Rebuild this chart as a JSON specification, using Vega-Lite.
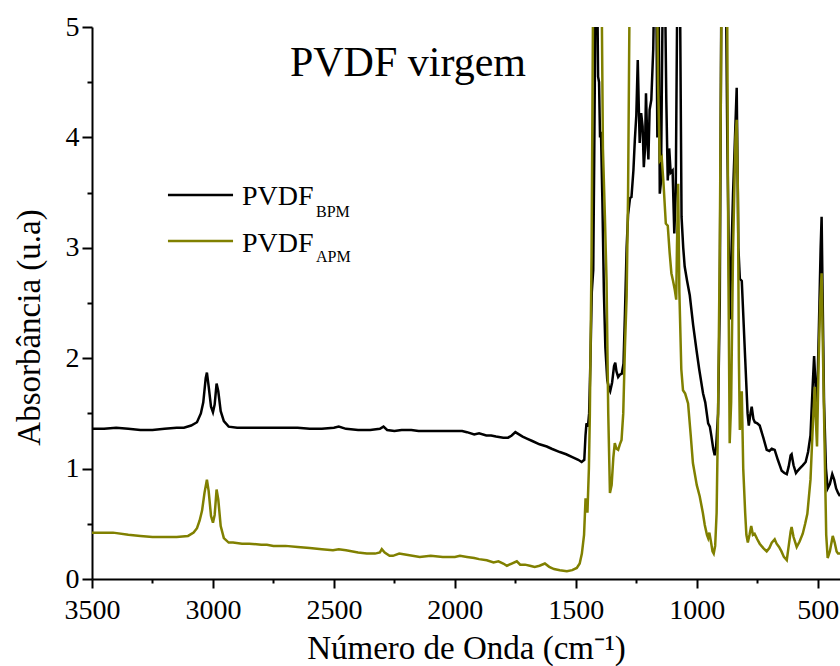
{
"$schema": "https://vega.github.io/schema/vega-lite/v6.json",
"width": 748, "height": 552,
"autosize": {"type": "none"},
"padding": {"left": 92, "top": 27, "right": 0, "bottom": 87},
"background": "white",
"config": {"view": {"stroke": null}, "font": "Liberation Serif"},
"datasets": {
"bpm": [{"wn":3500,"a":1.36},{"wn":3450,"a":1.36},{"wn":3400,"a":1.37},{"wn":3350,"a":1.36},{"wn":3300,"a":1.35},{"wn":3250,"a":1.35},{"wn":3200,"a":1.36},{"wn":3150,"a":1.37},{"wn":3120,"a":1.37},{"wn":3090,"a":1.39},{"wn":3066,"a":1.42},{"wn":3050,"a":1.50},{"wn":3040,"a":1.60},{"wn":3030,"a":1.82},{"wn":3025,"a":1.87},{"wn":3018,"a":1.75},{"wn":3008,"a":1.56},{"wn":3000,"a":1.51},{"wn":2993,"a":1.58},{"wn":2985,"a":1.77},{"wn":2978,"a":1.70},{"wn":2968,"a":1.52},{"wn":2955,"a":1.43},{"wn":2935,"a":1.38},{"wn":2900,"a":1.37},{"wn":2850,"a":1.37},{"wn":2800,"a":1.37},{"wn":2750,"a":1.37},{"wn":2700,"a":1.37},{"wn":2650,"a":1.37},{"wn":2600,"a":1.36},{"wn":2550,"a":1.36},{"wn":2500,"a":1.37},{"wn":2480,"a":1.38},{"wn":2450,"a":1.36},{"wn":2400,"a":1.35},{"wn":2350,"a":1.35},{"wn":2310,"a":1.36},{"wn":2295,"a":1.38},{"wn":2280,"a":1.35},{"wn":2250,"a":1.34},{"wn":2220,"a":1.35},{"wn":2180,"a":1.35},{"wn":2150,"a":1.34},{"wn":2100,"a":1.34},{"wn":2050,"a":1.34},{"wn":2000,"a":1.34},{"wn":1970,"a":1.34},{"wn":1950,"a":1.33},{"wn":1920,"a":1.31},{"wn":1900,"a":1.32},{"wn":1870,"a":1.30},{"wn":1850,"a":1.30},{"wn":1830,"a":1.29},{"wn":1800,"a":1.28},{"wn":1780,"a":1.28},{"wn":1765,"a":1.30},{"wn":1750,"a":1.33},{"wn":1735,"a":1.31},{"wn":1720,"a":1.29},{"wn":1700,"a":1.27},{"wn":1680,"a":1.25},{"wn":1650,"a":1.22},{"wn":1620,"a":1.20},{"wn":1600,"a":1.18},{"wn":1566,"a":1.15},{"wn":1540,"a":1.13},{"wn":1510,"a":1.10},{"wn":1490,"a":1.08},{"wn":1476,"a":1.06},{"wn":1465,"a":1.08},{"wn":1460,"a":1.30},{"wn":1456,"a":1.41},{"wn":1450,"a":1.38},{"wn":1445,"a":1.50},{"wn":1440,"a":1.95},{"wn":1434,"a":2.60},{"wn":1428,"a":2.80},{"wn":1424,"a":3.80},{"wn":1418,"a":5.5},{"wn":1412,"a":5.5},{"wn":1408,"a":4.55},{"wn":1404,"a":4.5},{"wn":1400,"a":4.0},{"wn":1396,"a":4.05},{"wn":1390,"a":3.4},{"wn":1384,"a":2.6},{"wn":1378,"a":2.1},{"wn":1370,"a":1.80},{"wn":1362,"a":1.72},{"wn":1358,"a":1.70},{"wn":1350,"a":1.78},{"wn":1342,"a":1.93},{"wn":1337,"a":1.96},{"wn":1332,"a":1.88},{"wn":1325,"a":1.83},{"wn":1318,"a":1.85},{"wn":1310,"a":1.86},{"wn":1303,"a":1.95},{"wn":1297,"a":2.4},{"wn":1290,"a":3.0},{"wn":1284,"a":3.3},{"wn":1276,"a":3.45},{"wn":1270,"a":3.46},{"wn":1262,"a":3.7},{"wn":1256,"a":3.98},{"wn":1250,"a":4.2},{"wn":1244,"a":4.70},{"wn":1240,"a":4.3},{"wn":1236,"a":3.95},{"wn":1230,"a":4.22},{"wn":1224,"a":4.1},{"wn":1219,"a":3.73},{"wn":1214,"a":3.9},{"wn":1210,"a":4.4},{"wn":1205,"a":4.0},{"wn":1200,"a":3.80},{"wn":1195,"a":4.25},{"wn":1188,"a":4.34},{"wn":1180,"a":4.8},{"wn":1175,"a":5.5},{"wn":1168,"a":5.5},{"wn":1163,"a":4.0},{"wn":1158,"a":5.5},{"wn":1153,"a":3.49},{"wn":1148,"a":3.6},{"wn":1140,"a":5.5},{"wn":1132,"a":5.5},{"wn":1126,"a":4.34},{"wn":1120,"a":3.61},{"wn":1114,"a":3.9},{"wn":1108,"a":3.68},{"wn":1100,"a":3.7},{"wn":1093,"a":3.13},{"wn":1087,"a":3.5},{"wn":1080,"a":5.5},{"wn":1070,"a":5.5},{"wn":1063,"a":3.28},{"wn":1056,"a":3.0},{"wn":1050,"a":2.83},{"wn":1040,"a":2.7},{"wn":1029,"a":2.57},{"wn":1015,"a":2.3},{"wn":1001,"a":2.07},{"wn":990,"a":1.9},{"wn":974,"a":1.68},{"wn":965,"a":1.6},{"wn":953,"a":1.41},{"wn":946,"a":1.38},{"wn":940,"a":1.30},{"wn":932,"a":1.18},{"wn":926,"a":1.12},{"wn":920,"a":1.2},{"wn":912,"a":1.50},{"wn":905,"a":2.5},{"wn":898,"a":5.5},{"wn":880,"a":5.5},{"wn":874,"a":4.0},{"wn":868,"a":3.0},{"wn":864,"a":2.35},{"wn":850,"a":3.5},{"wn":835,"a":4.45},{"wn":828,"a":3.0},{"wn":822,"a":2.72},{"wn":814,"a":2.70},{"wn":808,"a":2.4},{"wn":800,"a":2.0},{"wn":790,"a":1.5},{"wn":785,"a":1.39},{"wn":778,"a":1.50},{"wn":773,"a":1.56},{"wn":766,"a":1.45},{"wn":760,"a":1.42},{"wn":750,"a":1.41},{"wn":740,"a":1.39},{"wn":725,"a":1.28},{"wn":711,"a":1.17},{"wn":700,"a":1.16},{"wn":690,"a":1.18},{"wn":678,"a":1.17},{"wn":665,"a":1.08},{"wn":649,"a":0.98},{"wn":638,"a":0.96},{"wn":628,"a":0.95},{"wn":620,"a":1.02},{"wn":612,"a":1.12},{"wn":608,"a":1.13},{"wn":600,"a":1.03},{"wn":590,"a":0.96},{"wn":583,"a":0.98},{"wn":575,"a":1.0},{"wn":562,"a":1.03},{"wn":550,"a":1.06},{"wn":540,"a":1.15},{"wn":530,"a":1.30},{"wn":522,"a":1.70},{"wn":515,"a":2.02},{"wn":508,"a":1.70},{"wn":503,"a":1.56},{"wn":495,"a":2.3},{"wn":488,"a":3.0},{"wn":484,"a":3.28},{"wn":480,"a":2.6},{"wn":474,"a":1.6},{"wn":466,"a":1.0},{"wn":459,"a":0.82},{"wn":450,"a":0.86},{"wn":440,"a":0.95},{"wn":432,"a":0.9},{"wn":424,"a":0.82},{"wn":416,"a":0.78},{"wn":408,"a":0.75}],
"apm": [{"wn":3500,"a":0.42},{"wn":3450,"a":0.42},{"wn":3413,"a":0.42},{"wn":3350,"a":0.40},{"wn":3300,"a":0.39},{"wn":3250,"a":0.38},{"wn":3219,"a":0.38},{"wn":3150,"a":0.38},{"wn":3103,"a":0.39},{"wn":3080,"a":0.42},{"wn":3066,"a":0.46},{"wn":3055,"a":0.53},{"wn":3045,"a":0.62},{"wn":3035,"a":0.78},{"wn":3025,"a":0.90},{"wn":3018,"a":0.80},{"wn":3008,"a":0.57},{"wn":3000,"a":0.51},{"wn":2993,"a":0.58},{"wn":2985,"a":0.81},{"wn":2978,"a":0.72},{"wn":2968,"a":0.48},{"wn":2955,"a":0.37},{"wn":2935,"a":0.33},{"wn":2917,"a":0.33},{"wn":2880,"a":0.32},{"wn":2850,"a":0.32},{"wn":2800,"a":0.31},{"wn":2777,"a":0.31},{"wn":2750,"a":0.30},{"wn":2700,"a":0.30},{"wn":2650,"a":0.29},{"wn":2600,"a":0.28},{"wn":2550,"a":0.27},{"wn":2504,"a":0.26},{"wn":2480,"a":0.27},{"wn":2450,"a":0.26},{"wn":2400,"a":0.24},{"wn":2364,"a":0.23},{"wn":2330,"a":0.23},{"wn":2310,"a":0.24},{"wn":2302,"a":0.27},{"wn":2290,"a":0.24},{"wn":2270,"a":0.21},{"wn":2256,"a":0.21},{"wn":2230,"a":0.23},{"wn":2200,"a":0.22},{"wn":2145,"a":0.20},{"wn":2100,"a":0.21},{"wn":2050,"a":0.20},{"wn":2000,"a":0.20},{"wn":1979,"a":0.21},{"wn":1950,"a":0.20},{"wn":1920,"a":0.19},{"wn":1900,"a":0.18},{"wn":1868,"a":0.17},{"wn":1840,"a":0.15},{"wn":1820,"a":0.16},{"wn":1800,"a":0.14},{"wn":1785,"a":0.12},{"wn":1765,"a":0.14},{"wn":1744,"a":0.16},{"wn":1730,"a":0.13},{"wn":1710,"a":0.13},{"wn":1690,"a":0.12},{"wn":1670,"a":0.11},{"wn":1650,"a":0.12},{"wn":1628,"a":0.14},{"wn":1610,"a":0.11},{"wn":1590,"a":0.09},{"wn":1566,"a":0.08},{"wn":1537,"a":0.07},{"wn":1515,"a":0.08},{"wn":1496,"a":0.10},{"wn":1484,"a":0.14},{"wn":1475,"a":0.23},{"wn":1466,"a":0.40},{"wn":1460,"a":0.72},{"wn":1456,"a":0.72},{"wn":1452,"a":0.60},{"wn":1446,"a":1.0},{"wn":1442,"a":1.5},{"wn":1435,"a":2.93},{"wn":1428,"a":5.5},{"wn":1400,"a":5.5},{"wn":1394,"a":5.5},{"wn":1388,"a":3.9},{"wn":1380,"a":3.3},{"wn":1373,"a":2.7},{"wn":1366,"a":1.5},{"wn":1359,"a":0.78},{"wn":1352,"a":0.85},{"wn":1345,"a":1.1},{"wn":1339,"a":1.23},{"wn":1332,"a":1.18},{"wn":1325,"a":1.17},{"wn":1318,"a":1.22},{"wn":1311,"a":1.26},{"wn":1304,"a":1.5},{"wn":1297,"a":2.1},{"wn":1290,"a":2.56},{"wn":1284,"a":3.5},{"wn":1277,"a":5.5},{"wn":1220,"a":5.5},{"wn":1165,"a":5.5},{"wn":1160,"a":4.5},{"wn":1153,"a":3.79},{"wn":1145,"a":3.82},{"wn":1138,"a":3.6},{"wn":1128,"a":3.22},{"wn":1120,"a":3.2},{"wn":1112,"a":2.95},{"wn":1105,"a":2.77},{"wn":1098,"a":2.7},{"wn":1091,"a":2.62},{"wn":1085,"a":2.53},{"wn":1082,"a":3.0},{"wn":1077,"a":3.58},{"wn":1072,"a":2.6},{"wn":1064,"a":1.9},{"wn":1057,"a":1.71},{"wn":1048,"a":1.68},{"wn":1036,"a":1.59},{"wn":1025,"a":1.3},{"wn":1016,"a":1.05},{"wn":1000,"a":0.85},{"wn":988,"a":0.75},{"wn":975,"a":0.6},{"wn":967,"a":0.49},{"wn":958,"a":0.4},{"wn":953,"a":0.37},{"wn":948,"a":0.42},{"wn":940,"a":0.32},{"wn":935,"a":0.25},{"wn":930,"a":0.23},{"wn":924,"a":0.3},{"wn":918,"a":0.6},{"wn":912,"a":1.5},{"wn":905,"a":3.0},{"wn":897,"a":5.5},{"wn":885,"a":5.5},{"wn":875,"a":5.5},{"wn":870,"a":3.0},{"wn":864,"a":1.23},{"wn":858,"a":1.6},{"wn":850,"a":3.0},{"wn":840,"a":4.0},{"wn":835,"a":4.16},{"wn":830,"a":3.5},{"wn":826,"a":2.0},{"wn":822,"a":1.35},{"wn":814,"a":1.70},{"wn":808,"a":1.0},{"wn":800,"a":0.6},{"wn":795,"a":0.4},{"wn":789,"a":0.33},{"wn":782,"a":0.4},{"wn":775,"a":0.48},{"wn":768,"a":0.40},{"wn":761,"a":0.41},{"wn":750,"a":0.36},{"wn":740,"a":0.32},{"wn":725,"a":0.28},{"wn":711,"a":0.25},{"wn":700,"a":0.28},{"wn":690,"a":0.33},{"wn":678,"a":0.36},{"wn":670,"a":0.32},{"wn":660,"a":0.29},{"wn":650,"a":0.25},{"wn":640,"a":0.2},{"wn":628,"a":0.17},{"wn":620,"a":0.3},{"wn":612,"a":0.43},{"wn":608,"a":0.47},{"wn":600,"a":0.38},{"wn":587,"a":0.29},{"wn":575,"a":0.34},{"wn":562,"a":0.41},{"wn":552,"a":0.5},{"wn":543,"a":0.59},{"wn":530,"a":0.9},{"wn":520,"a":1.41},{"wn":512,"a":1.74},{"wn":507,"a":1.4},{"wn":503,"a":1.2},{"wn":496,"a":2.0},{"wn":490,"a":2.5},{"wn":484,"a":2.77},{"wn":478,"a":2.0},{"wn":470,"a":1.0},{"wn":465,"a":0.4},{"wn":459,"a":0.19},{"wn":450,"a":0.25},{"wn":438,"a":0.39},{"wn":430,"a":0.33},{"wn":422,"a":0.25},{"wn":416,"a":0.23},{"wn":408,"a":0.23}],
"one": [{"k": 1}]
},
"layer": [
 {"data": {"name": "bpm"},
  "mark": {"type": "line", "clip": true, "strokeWidth": 2.5, "color": "#000000"},
  "encoding": {
   "x": {"field": "wn", "type": "quantitative", "scale": {"domain": [3500, 408], "nice": false, "zero": false},
     "axis": {"title": "Número de Onda (cm⁻¹)",
       "values": [3500,3250,3000,2750,2500,2250,2000,1750,1500,1250,1000,750,500],
       "labelExpr": "datum.value % 500 === 0 ? format(datum.value, 'd') : ''",
       "tickSize": {"condition": {"test": "datum.value % 500 === 0", "value": 9}, "value": 4},
       "grid": false, "domainColor": "black", "domainWidth": 2, "tickColor": "black", "tickWidth": 2,
       "labelFont": "Liberation Serif", "labelFontSize": 28, "labelColor": "black", "labelPadding": 8,
       "labelFlush": false, "labelOverlap": false,
       "titleFont": "Liberation Serif", "titleFontSize": 33, "titleFontWeight": "normal", "titleColor": "black",
       "titleY": 79, "titleBaseline": "alphabetic"}},
   "y": {"field": "a", "type": "quantitative", "scale": {"domain": [0, 5], "nice": false, "zero": false},
     "axis": {"title": "Absorbância (u.a)",
       "values": [0,0.5,1,1.5,2,2.5,3,3.5,4,4.5,5],
       "labelExpr": "datum.value % 1 === 0 ? format(datum.value, 'd') : ''",
       "tickSize": {"condition": {"test": "datum.value % 1 === 0", "value": 10}, "value": 5},
       "grid": false, "domainColor": "black", "domainWidth": 2, "tickColor": "black", "tickWidth": 2,
       "labelFont": "Liberation Serif", "labelFontSize": 28, "labelColor": "black", "labelPadding": 3,
       "labelFlush": false, "labelOverlap": false,
       "titleFont": "Liberation Serif", "titleFontSize": 33, "titleFontWeight": "normal", "titleColor": "black",
       "titleX": -63, "titleY": 300, "titleBaseline": "middle", "titleAngle": -90}}
  }},
 {"data": {"name": "apm"},
  "mark": {"type": "line", "clip": true, "strokeWidth": 2.5, "color": "#808000"},
  "encoding": {
   "x": {"field": "wn", "type": "quantitative", "axis": {"title": "Número de Onda (cm⁻¹)"}},
   "y": {"field": "a", "type": "quantitative", "axis": {"title": "Absorbância (u.a)"}}
  }},
 {"data": {"name": "one"},
  "mark": {"type": "text", "text": "PVDF virgem", "font": "Liberation Serif", "fontSize": 42, "align": "center", "baseline": "alphabetic", "color": "black"},
  "encoding": {"x": {"datum": 2194, "type": "quantitative", "axis": {"title": "Número de Onda (cm⁻¹)"}}, "y": {"datum": 4.556, "type": "quantitative", "axis": {"title": "Absorbância (u.a)"}}}},
 {"data": {"name": "one"},
  "mark": {"type": "rule", "strokeWidth": 2.5, "color": "#000000"},
  "encoding": {"x": {"datum": 3186, "type": "quantitative", "axis": {"title": "Número de Onda (cm⁻¹)"}}, "x2": {"datum": 2917}, "y": {"datum": 3.478, "type": "quantitative", "axis": {"title": "Absorbância (u.a)"}}}},
 {"data": {"name": "one"},
  "mark": {"type": "rule", "strokeWidth": 2.5, "color": "#808000"},
  "encoding": {"x": {"datum": 3186, "type": "quantitative", "axis": {"title": "Número de Onda (cm⁻¹)"}}, "x2": {"datum": 2917}, "y": {"datum": 3.062, "type": "quantitative", "axis": {"title": "Absorbância (u.a)"}}}},
 {"data": {"name": "one"},
  "mark": {"type": "text", "text": "PVDF", "font": "Liberation Serif", "fontSize": 28, "align": "left", "baseline": "alphabetic", "color": "black"},
  "encoding": {"x": {"datum": 2880, "type": "quantitative", "axis": {"title": "Número de Onda (cm⁻¹)"}}, "y": {"datum": 3.388, "type": "quantitative", "axis": {"title": "Absorbância (u.a)"}}}},
 {"data": {"name": "one"},
  "mark": {"type": "text", "text": "BPM", "font": "Liberation Serif", "fontSize": 16, "align": "left", "baseline": "alphabetic", "color": "black"},
  "encoding": {"x": {"datum": 2574, "type": "quantitative", "axis": {"title": "Número de Onda (cm⁻¹)"}}, "y": {"datum": 3.279, "type": "quantitative", "axis": {"title": "Absorbância (u.a)"}}}},
 {"data": {"name": "one"},
  "mark": {"type": "text", "text": "PVDF", "font": "Liberation Serif", "fontSize": 28, "align": "left", "baseline": "alphabetic", "color": "black"},
  "encoding": {"x": {"datum": 2880, "type": "quantitative", "axis": {"title": "Número de Onda (cm⁻¹)"}}, "y": {"datum": 2.962, "type": "quantitative", "axis": {"title": "Absorbância (u.a)"}}}},
 {"data": {"name": "one"},
  "mark": {"type": "text", "text": "APM", "font": "Liberation Serif", "fontSize": 16, "align": "left", "baseline": "alphabetic", "color": "black"},
  "encoding": {"x": {"datum": 2574, "type": "quantitative", "axis": {"title": "Número de Onda (cm⁻¹)"}}, "y": {"datum": 2.871, "type": "quantitative", "axis": {"title": "Absorbância (u.a)"}}}}
]
}
